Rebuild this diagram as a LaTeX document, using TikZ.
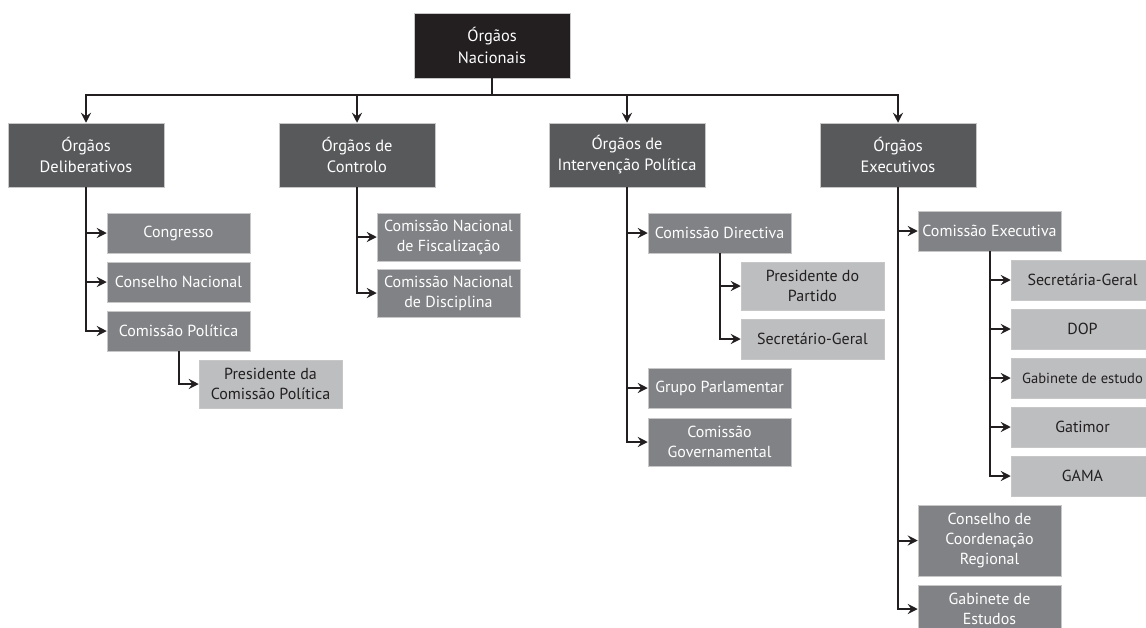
\documentclass[tikz,border=0pt]{standalone}
\usepackage{fontspec}
\setmainfont{PT Sans}
\usetikzlibrary{arrows.meta}
\definecolor{cnac}{HTML}{231F20}
\definecolor{cone}{HTML}{58595B}
\definecolor{ctwo}{HTML}{808285}
\definecolor{cthree}{HTML}{BCBEC0}
\definecolor{cline}{HTML}{231F20}
\begin{document}
\begin{tikzpicture}[x=1pt,y=-1pt,
  box/.style={rectangle, inner sep=0pt, align=center, text=white,
    draw=black!22, line width=0.5pt, font=\fontsize{16}{20}\selectfont},
  topbox/.style={box, fill=cnac, minimum width=156pt, minimum height=65pt,
    font=\fontsize{16.4}{22}\selectfont},
  onebox/.style={box, fill=cone, minimum width=156pt, minimum height=64pt,
    font=\fontsize{16.4}{21}\selectfont},
  twobox/.style={box, fill=ctwo, minimum width=143pt, minimum height=40pt},
  twoboxb/.style={twobox, minimum height=48pt},
  threebox/.style={box, fill=cthree, text=cnac, minimum width=143pt, minimum height=40pt},
  threeboxb/.style={threebox, minimum height=48pt},
  ln/.style={draw=cline, line width=2pt},
  arr/.style={ln, -{Stealth[length=10pt,width=10pt,inset=3.5pt]}}]
\useasboundingbox (0,0) rectangle (1146,627);
\clip (0,0) rectangle (1146,627);
\fill[white] (0,0) rectangle (1146,627);

% level 0 and 1
\node[topbox] (nac) at (492,45.5) {Órgãos\\Nacionais};
\node[onebox] (del) at (86,155) {Órgãos\\Deliberativos};
\node[onebox] (con) at (357,155) {Órgãos de\\Controlo};
\node[onebox] (int) at (627,155) {Órgãos de\\Intervenção Política};
\node[onebox] (exe) at (898,155) {Órgãos\\Executivos};

% Deliberativos
\node[twobox] (cong) at (178.5,233) {Congresso};
\node[twobox] (cnac) at (178.5,282) {Conselho Nacional};
\node[twobox] (cpol) at (178.5,331) {Comissão Política};
\node[threeboxb] (pcp) at (270.5,384) {Presidente da\\Comissão Política};

% Controlo
\node[twoboxb] (fisc) at (448.5,237) {Comissão Nacional\\de Fiscalização};
\node[twoboxb] (disc) at (448.5,293) {Comissão Nacional\\de Disciplina};

% Intervencao
\node[twobox] (cdir) at (719.5,233) {Comissão Directiva};
\node[threeboxb] (ppar) at (812.5,286) {Presidente do\\Partido};
\node[threebox] (sgi) at (812.5,339) {Secretário-Geral};
\node[twobox] (gpar) at (719.5,388) {Grupo Parlamentar};
\node[twoboxb] (cgov) at (719.5,442) {Comissão\\Governamental};

% Executivos
\node[twobox] (cexe) at (989.5,231) {Comissão Executiva};
\node[threebox] (sge) at (1082.5,280) {Secretária-Geral};
\node[threebox] (dop) at (1082.5,329) {DOP};
\node[threebox, font=\fontsize{14.6}{20}\selectfont] (gabe) at (1082.5,378) {Gabinete de estudo};
\node[threebox] (gat) at (1082.5,427) {Gatimor};
\node[threebox] (gama) at (1082.5,476) {GAMA};
\node[twobox, minimum height=71pt] (ccr) at (989.5,540.5) {Conselho de\\Coordenação\\Regional};
\node[twoboxb] (gest) at (989.5,609) {Gabinete de\\Estudos};

% top bus
\coordinate (bus) at (0,95);
\draw[ln] (nac.south) -- (nac.south |- bus);
\foreach \t in {del,con,int,exe}
  \draw[arr] (nac.south |- bus) -| (\t.north);

% children connectors
\foreach \p/\c in {del/cong, del/cnac, del/cpol, cpol/pcp,
                   con/fisc, con/disc,
                   int/cdir, cdir/ppar, cdir/sgi, int/gpar, int/cgov,
                   exe/cexe, exe/ccr, exe/gest,
                   cexe/sge, cexe/dop, cexe/gabe, cexe/gat, cexe/gama}
  \draw[arr] (\p.south) |- (\c.west);
\end{tikzpicture}
\end{document}
